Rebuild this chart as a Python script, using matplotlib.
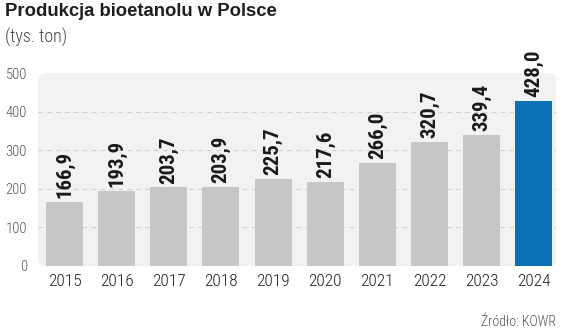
import numpy as np
from matplotlib import pyplot as plt
from matplotlib.patches import FancyBboxPatch

years = ['2015', '2016', '2017', '2018', '2019', '2020', '2021', '2022', '2023', '2024']
values = [166.9, 193.9, 203.7, 203.9, 225.7, 217.6, 266.0, 320.7, 339.4, 428.0]
yticks = [0, 100, 200, 300, 400, 500]

bar_colors = ['#c6c6c6'] * (len(values) - 1) + ['#0a6fb4']
narrow = ['Roboto Condensed', 'DejaVu Sans']
regular = ['Liberation Sans', 'DejaVu Sans']

fig = plt.figure(figsize=(5.64, 3.34), dpi=100)
ax = fig.add_axes([0.0674, 0.2036, 0.9186, 0.5778])

x = np.arange(len(years))
ax.set_xlim(-0.51, 9.43)
ax.set_ylim(0, 500)

# light panel with rounded corners
ax.patch.set_visible(False)
panel = FancyBboxPatch((0, 0), 1, 1, boxstyle='round,pad=0,rounding_size=0.02',
                       transform=ax.transAxes, facecolor='#f2f2f2',
                       edgecolor='none', zorder=0, clip_on=False,
                       mutation_aspect=1.6)
ax.add_patch(panel)

for yv in yticks[1:-1]:
    ax.axhline(yv, color='#cfcfcf', lw=0.8, ls=(0, (4, 4)), zorder=1)

bars = ax.bar(x, values, width=0.71, color=bar_colors, zorder=2)

for xi, v in zip(x, values):
    ax.text(xi, v + 10, ('%.1f' % v).replace('.', ','), rotation=90,
            ha='center', va='bottom', fontsize=15, fontweight='bold',
            family=narrow, color='#1a1a1a', zorder=3)

for s in ax.spines.values():
    s.set_visible(False)
ax.set_yticks(yticks)
ax.set_yticklabels([str(t) for t in yticks], fontsize=10.5, color='#555555',
                   family=narrow, fontweight=300)
ax.set_xticks(x)
ax.set_xticklabels(years, fontsize=12.5, color='#222222', family=narrow,
                   fontweight=300)
ax.tick_params(length=0)
ax.tick_params(axis='y', pad=8)
ax.tick_params(axis='x', pad=6)

fig.text(0.008, 0.965, 'Produkcja bioetanolu w Polsce', fontsize=13.3,
         fontweight='bold', color='#1e1e1e', va='center', ha='left',
         family=regular)
fig.text(0.008, 0.888, '(tys. ton)', fontsize=13, color='#444444',
         va='center', ha='left', family=narrow, fontweight=300)
fig.text(0.986, 0.035, 'Źródło: KOWR', fontsize=10, color='#555555',
         va='center', ha='right', family=narrow, fontweight=300)

plt.savefig('out.png', dpi=100)
